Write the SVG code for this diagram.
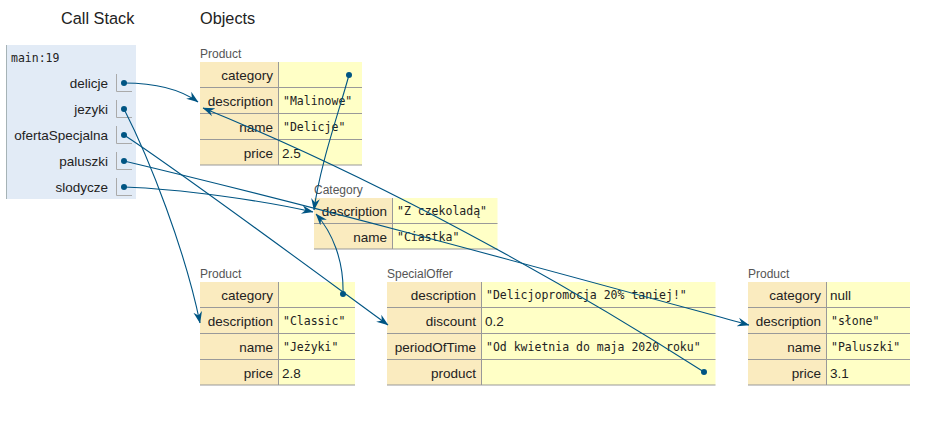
<svg xmlns="http://www.w3.org/2000/svg" width="943" height="422" viewBox="0 0 943 422">
<defs>
<style>
.hdr{font-family:"Liberation Sans",Arial,sans-serif;font-size:16.3px;fill:#222}
.lbl{font-family:"Liberation Sans",Arial,sans-serif;font-size:12px;fill:#555}
.key{font-family:"Liberation Sans",Arial,sans-serif;font-size:13.5px;fill:#222;text-anchor:end}
.num{font-family:"Liberation Sans",Arial,sans-serif;font-size:13.5px;fill:#222}
.str{font-family:"DejaVu Sans Mono","Liberation Mono",monospace;font-size:11.5px;fill:#222}
.kc{fill:#faebbf}
.vc{fill:#ffffc6}
.ln{stroke:#999;stroke-width:1;fill:none}
.br{stroke:#aaa;stroke-width:1;fill:none}
.con{stroke:#005583;stroke-width:1.1;fill:none;marker-end:url(#ah)}
.dot{fill:#005583}
</style>
<marker id="ah" markerUnits="userSpaceOnUse" markerWidth="12" markerHeight="10" viewBox="0 0 11 8" refX="10.5" refY="4" orient="auto">
<path d="M0,0 L11,4 L0,8 L3.5,4 z" fill="#005583"/>
</marker>
</defs>
<rect width="943" height="422" fill="#fff"/>
<text class="hdr" x="61" y="24">Call Stack</text>
<text class="hdr" x="200" y="24">Objects</text>

<g id="frame-main">
<rect x="6" y="45" width="130" height="154" fill="#e2ebf6"/>
<line x1="6.5" y1="45" x2="6.5" y2="199" stroke="#a6b3b6"/>
<text class="str" x="11" y="62">main:19</text>
<text class="key" x="108" y="88">delicje</text>
<text class="key" x="108" y="114">jezyki</text>
<text class="key" x="108" y="140">ofertaSpecjalna</text>
<text class="key" x="108" y="166">paluszki</text>
<text class="key" x="108" y="192">slodycze</text>
<path class="br" d="M116.5,74 V91.5 H132 M116.5,100 V117.5 H132 M116.5,126 V143.5 H132 M116.5,152 V169.5 H132 M116.5,178 V195.5 H132"/>
<circle class="dot" cx="124" cy="83" r="3"/>
<circle class="dot" cx="124" cy="109" r="3"/>
<circle class="dot" cx="124" cy="135" r="3"/>
<circle class="dot" cx="124" cy="161" r="3"/>
<circle class="dot" cx="124" cy="187" r="3"/>
</g>

<g id="product-delicje">
<text class="lbl" x="200" y="58">Product</text>
<rect class="kc" x="200" y="62" width="78.5" height="103"/>
<rect class="vc" x="278.5" y="62" width="83.5" height="103"/>
<path class="ln" d="M200,87.5 H362 M200,113.5 H362 M200,139.5 H362 M200,165 H362 M278.5,62 V165"/>
<text class="key" x="273" y="80">category</text>
<text class="key" x="273" y="106">description</text>
<text class="key" x="273" y="132">name</text>
<text class="key" x="273" y="158">price</text>
<text class="str" x="283" y="105">"Malinowe"</text>
<text class="str" x="283" y="131">"Delicje"</text>
<text class="num" x="282" y="158">2.5</text>
<circle class="dot" cx="349" cy="75" r="3"/>
</g>

<g id="category-ciastka">
<text class="lbl" x="314" y="194">Category</text>
<rect class="kc" x="314" y="198" width="78.5" height="51"/>
<rect class="vc" x="392.5" y="198" width="105" height="51"/>
<path class="ln" d="M314,223.5 H497.5 M314,249 H497.5 M392.5,198 V249"/>
<text class="key" x="387" y="216">description</text>
<text class="key" x="387" y="242">name</text>
<text class="str" x="397" y="215">"Z czekoladą"</text>
<text class="str" x="397" y="241">"Ciastka"</text>
</g>

<g id="product-jezyki">
<text class="lbl" x="200" y="278">Product</text>
<rect class="kc" x="200" y="282" width="78.5" height="103"/>
<rect class="vc" x="278.5" y="282" width="76.5" height="103"/>
<path class="ln" d="M200,307.5 H355 M200,333.5 H355 M200,359.5 H355 M200,385 H355 M278.5,282 V385"/>
<text class="key" x="273" y="300">category</text>
<text class="key" x="273" y="326">description</text>
<text class="key" x="273" y="352">name</text>
<text class="key" x="273" y="378">price</text>
<text class="str" x="283" y="325">"Classic"</text>
<text class="str" x="283" y="351">"Jeżyki"</text>
<text class="num" x="282" y="378">2.8</text>
<circle class="dot" cx="343" cy="294" r="3"/>
</g>

<g id="specialoffer">
<text class="lbl" x="387" y="278">SpecialOffer</text>
<rect class="kc" x="387" y="282" width="94.5" height="103"/>
<rect class="vc" x="481.5" y="282" width="234" height="103"/>
<path class="ln" d="M387,307.5 H715.5 M387,333.5 H715.5 M387,359.5 H715.5 M387,385 H715.5 M481.5,282 V385"/>
<text class="key" x="476" y="300">description</text>
<text class="key" x="476" y="326">discount</text>
<text class="key" x="476" y="352">periodOfTime</text>
<text class="key" x="476" y="378">product</text>
<text class="str" x="486" y="299">"Delicjopromocja 20% taniej!"</text>
<text class="num" x="485" y="326">0.2</text>
<text class="str" x="486" y="351">"Od kwietnia do maja 2020 roku"</text>
<circle class="dot" cx="704" cy="372" r="3"/>
</g>

<g id="product-paluszki">
<text class="lbl" x="748" y="278">Product</text>
<rect class="kc" x="748" y="282" width="78.5" height="103"/>
<rect class="vc" x="826.5" y="282" width="83.5" height="103"/>
<path class="ln" d="M748,307.5 H910 M748,333.5 H910 M748,359.5 H910 M748,385 H910 M826.5,282 V385"/>
<text class="key" x="821" y="300">category</text>
<text class="key" x="821" y="326">description</text>
<text class="key" x="821" y="352">name</text>
<text class="key" x="821" y="378">price</text>
<text class="num" x="830" y="300">null</text>
<text class="str" x="831" y="325">"słone"</text>
<text class="str" x="831" y="351">"Paluszki"</text>
<text class="num" x="830" y="378">3.1</text>
</g>

<g id="connectors">
<path class="con" d="M124,83 C155,83 180,89 198,102"/>
<path class="con" d="M124,109 C150,160 185,250 200,323"/>
<path class="con" d="M124,135 C175,168 310,268 388,325"/>
<path class="con" d="M124,161 C330,210 540,268 749,325"/>
<path class="con" d="M124,187 C180,189 260,200 313,212"/>
<path class="con" d="M349,75 C338,115 320,165 314,210"/>
<path class="con" d="M343,294 C344,260 332,232 316,214"/>
<path class="con" d="M704,372 C560,280 380,180 203,108"/>
</g>
</svg>
